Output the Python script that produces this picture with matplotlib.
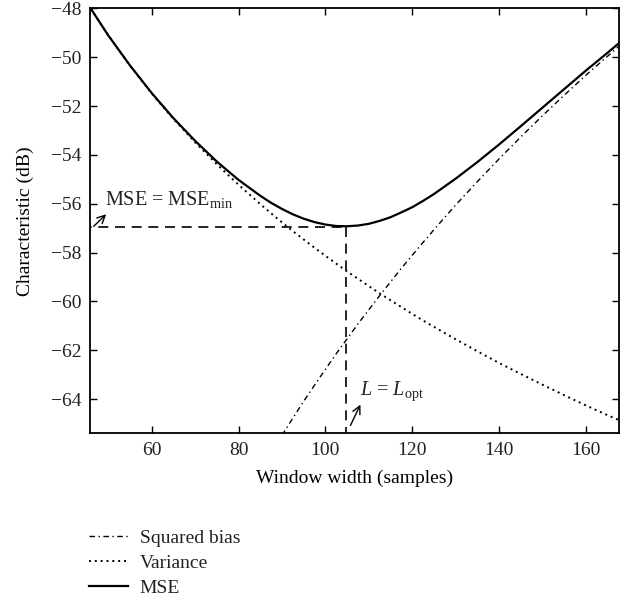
import numpy as np
import matplotlib
matplotlib.use("Agg")
import matplotlib.pyplot as plt

plt.rcParams['font.family'] = ['Liberation Serif', 'DejaVu Serif']
plt.rcParams['mathtext.fontset'] = 'custom'
plt.rcParams['mathtext.rm'] = 'Liberation Serif'
plt.rcParams['mathtext.it'] = 'Liberation Serif:italic'
plt.rcParams['text.color'] = '#222222'
plt.rcParams['xtick.labelcolor'] = '#222222'
plt.rcParams['ytick.labelcolor'] = '#222222'

# window width (samples)
L = [46, 50, 55, 60, 65, 70, 75, 80, 85, 87.5, 90, 92.5, 95, 97.5, 100,
     102.5, 105, 107.5, 110, 112.5, 115, 117.5, 120, 122.5, 125, 130, 135,
     140, 145, 150, 155, 160, 165, 168]
variance = [-48.01, -49.10, -50.34, -51.48, -52.52, -53.48, -54.38, -55.22,
            -56.01, -56.39, -56.76, -57.12, -57.46, -57.80, -58.13, -58.45,
            -58.77, -59.07, -59.37, -59.67, -59.95, -60.23, -60.51, -60.78,
            -61.04, -61.55, -62.04, -62.52, -62.97, -63.41, -63.84, -64.26,
            -64.66, -64.89]
mse = [-48.01, -49.10, -50.33, -51.46, -52.49, -53.42, -54.27, -55.02,
       -55.67, -55.96, -56.21, -56.43, -56.61, -56.75, -56.85, -56.91,
       -56.92, -56.89, -56.82, -56.70, -56.55, -56.35, -56.14, -55.88,
       -55.60, -54.97, -54.29, -53.57, -52.82, -52.06, -51.30, -50.54,
       -49.81, -49.36]
L_bias = [85, 87.5, 90, 92.5, 95, 97.5, 100, 102.5, 105, 107.5, 110, 112.5,
          115, 117.5, 120, 122.5, 125, 130, 135, 140, 145, 150, 155, 160,
          165, 168]
bias = [-66.94, -66.20, -65.48, -64.78, -64.09, -63.43, -62.78, -62.14,
        -61.53, -60.92, -60.34, -59.76, -59.20, -58.64, -58.11, -57.58,
        -57.06, -56.05, -55.09, -54.16, -53.26, -52.39, -51.55, -50.73,
        -49.95, -49.48]

L_opt = 104.7
mse_min = -56.95

fig = plt.figure(figsize=(6.27, 5.97), dpi=100)
ax = fig.add_axes([0.1435, 0.2742, 0.8437, 0.7116])

ax.plot(L_bias, bias, color='black', lw=1.0, linestyle=(0, (4, 2.5, 1, 2.5)),
        label='Squared bias')
ax.plot(L, variance, color='black', lw=1.4, linestyle=(0, (1, 2)),
        label='Variance')
ax.plot(L, mse, color='black', lw=1.6, label='MSE')

ax.plot([40, L_opt], [mse_min, mse_min], color='black', lw=1.2, dashes=(6, 4))
ax.plot([L_opt, L_opt], [mse_min, -70], color='black', lw=1.2, dashes=(6, 4))

ax.annotate('', xy=(50.0, -56.35), xytext=(46.2, -57.0),
            arrowprops=dict(arrowstyle='->', color='black', lw=1.0,
                            mutation_scale=14))
ax.text(49.3, -56.05, 'MSE = MSE$_{\\rm min}$', fontsize=14.5)
ax.annotate('', xy=(108.35, -64.12), xytext=(105.5, -65.18),
            arrowprops=dict(arrowstyle='->', color='black', lw=1.0,
                            mutation_scale=14))
ax.text(108.0, -63.85, '$L$ = $L_{\\rm opt}$', fontsize=14.5)

ax.set_xlim(45.8, 167.6)
ax.set_ylim(-65.4, -48)
ax.set_xticks([60, 80, 100, 120, 140, 160])
ax.set_yticks([-64, -62, -60, -58, -56, -54, -52, -50, -48])
ax.tick_params(direction='in', top=True, right=True, length=5, width=1,
               labelsize=14, pad=6)
for s in ax.spines.values():
    s.set_linewidth(1.3)

ax.set_xlabel('Window width (samples)', fontsize=14, labelpad=8)
ax.set_ylabel('Characteristic (dB)', fontsize=14, labelpad=12)

fig.legend(loc='upper left', bbox_to_anchor=(0.13, 0.127), frameon=False,
           fontsize=14, handlelength=2.0, handletextpad=0.6,
           labelspacing=0.38, borderaxespad=0)

fig.savefig('out.png', dpi=100)
